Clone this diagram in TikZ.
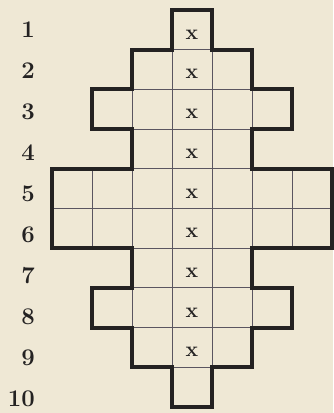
\documentclass[tikz,border=0pt]{standalone}
\usepackage{tikz}
\definecolor{paper}{HTML}{EFE8D5}
\definecolor{ink}{HTML}{242222}
\definecolor{rule}{HTML}{5A5560}

\begin{document}
\begin{tikzpicture}[
    x=1cm, y=-0.9925cm,
    outline/.style={draw=ink, line width=2.8pt},
    gridline/.style={draw=rule, line width=0.6pt},
    rownum/.style={anchor=east, inner sep=0pt, font=\fontsize{17}{18}\selectfont\bfseries, text=ink},
    xmark/.style={inner sep=0pt, font=\fontsize{15}{16}\selectfont\bfseries, text=ink},
]
\fill[paper] (-1.3,-0.252) rectangle (7.025,10.151);
\useasboundingbox (-1.3,-0.252) rectangle (7.025,10.151);

\foreach \r/\a/\b in {1/3/4, 2/2/5, 3/2/5, 4/2/5, 5/0/7, 6/2/5, 7/2/5, 8/2/5, 9/3/4}
    \draw[gridline] (\a,\r) -- (\b,\r);
\foreach \r/\a/\b in {2/3/4, 3/2/5, 4/3/4, 5/1/6, 6/1/6, 7/3/4, 8/2/5, 9/3/4}
    \foreach \c in {\a,...,\b}
        \draw[gridline] (\c,\r-1) -- (\c,\r);

\draw[outline] (3,0) -| (4,1) -| (5,2) -| (6,3) -| (5,4) -| (7,6) -| (5,7)
    -| (6,8) -| (5,9) -| (4,10) -| (3,9) -| (2,8) -| (1,7) -| (2,6) -| (0,4)
    -| (2,3) -| (1,2) -| (2,1) -- (3,1) -- cycle;

\foreach \i in {1,...,10}
    \node[rownum] (num\i) at (-0.425, {(41*\i-21)/39.7}) {\i};
\foreach \i in {1,...,9}
    \node[xmark] (x\i) at (3.5, \i-0.38) {x};
\end{tikzpicture}
\end{document}
